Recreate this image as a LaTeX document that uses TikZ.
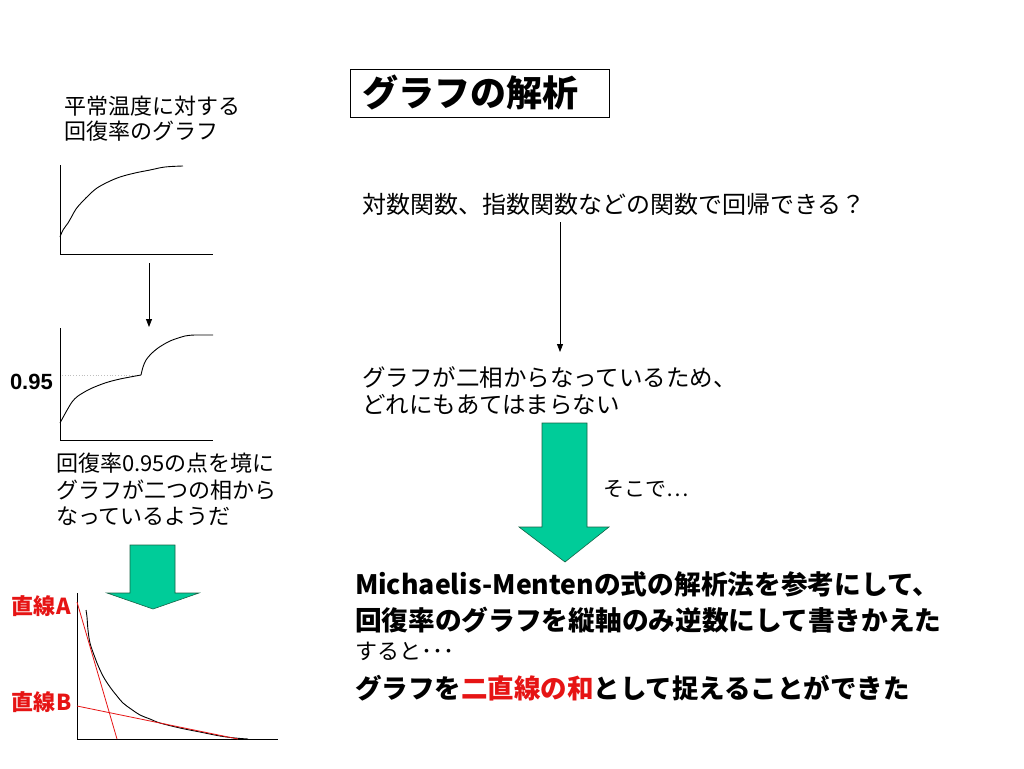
\documentclass[tikz,border=0pt]{standalone}
\usepackage{fontspec}
\setmainfont{Noto Sans CJK JP}
\newfontfamily\arial{Liberation Sans}
\usetikzlibrary{arrows.meta}
\definecolor{arrowgreen}{RGB}{0,204,153}
\definecolor{arrowedge}{RGB}{20,100,70}
\definecolor{txtred}{RGB}{230,20,20}
\tikzset{
  txt/.style={anchor=base west, inner sep=0pt, outer sep=0pt},
  axis/.style={line width=0.8pt, black},
  curve/.style={line width=0.9pt, black},
  redline/.style={line width=0.8pt, txtred},
  thinarrow/.style={line width=0.8pt, -{Triangle[length=8pt,width=6pt]}},
  bigarrow/.style={fill=arrowgreen, draw=arrowedge, line width=0.6pt, line join=miter}
}
\begin{document}
\begin{tikzpicture}[x=1pt,y=-1pt]
\useasboundingbox (0,0) rectangle (1024,768);
\fill[white] (0,0) rectangle (1024,768);

% ---------- title ----------
\draw[line width=0.8pt] (350,69) rectangle (609,117);
\node[txt, font=\fontsize{36}{40}\selectfont\bfseries] (title) at (362,106) {グラフの解析};

% ---------- left column ----------
\node[txt, font=\fontsize{22}{26}\selectfont] (l1) at (64,114) {平常温度に対する};
\node[txt, font=\fontsize{22}{26}\selectfont] (l2) at (64,139) {回復率のグラフ};

% graph 1
\draw[axis] (60,165) -- (60,254) -- (213,254);
\draw[curve] plot[smooth, tension=0.6] coordinates {(60,237) (63,230) (68,223) (72,216) (76,209) (82,202) (90,194) (97,188) (108,182) (120,177) (135,173) (150,170) (165,167) (183,166)};

\coordinate (a1s) at (149,263);
\coordinate (a1e) at (149,327);
\draw[thinarrow] (a1s) -- (a1e);

% graph 2
\draw[gray!50, dotted, line width=0.8pt] (62,375) -- (140,375);
\draw[axis] (60,328) -- (60,440) -- (213,440);
\draw[curve] plot[smooth, tension=0.5] coordinates {(60,423) (66,412) (72,402) (78,396) (90,389) (105,383) (120,379) (141,375)};
\draw[curve] plot[smooth, tension=0.5] coordinates {(141,375) (143,367) (146,360) (151,354) (158,348) (170,341) (185,336) (195,335)} -- (213,335);
\node[txt, font=\arial\fontsize{22}{25}\selectfont\bfseries] (v095) at (10,389) {0.95};

\node[txt, font=\fontsize{22}{26}\selectfont] (c1) at (56,471) {回復率0.95の点を境に};
\node[txt, font=\fontsize{22}{26}\selectfont] (c2) at (56,498) {グラフが二つの相から};
\node[txt, font=\fontsize{22}{26}\selectfont] (c3) at (56,524) {なっているようだ};

% green arrow left
\draw[bigarrow] (130,545) -- (175,545) -- (175,593) -- (199,593) -- (153,609) -- (107,593) -- (130,593) -- cycle;

% graph 3
\draw[axis] (77,593) -- (77,739) -- (278,739);
\draw[curve] plot[smooth, tension=0.6] coordinates {(86,610) (87,617) (88,630) (90,643) (94,655) (97,663) (103,676) (110,687) (117,696) (123,703) (131,709) (140,715) (150,719) (160,723) (180,728) (200,732) (220,736) (235,738) (248,739)};
\draw[redline] (77,602) -- (117,739);
\draw[redline] (77,706) -- (238,739);
\node[txt, text=txtred, font=\fontsize{22}{25}\selectfont\bfseries] (lA) at (12,614) {直線A};
\node[txt, text=txtred, font=\fontsize{22}{25}\selectfont\bfseries] (lB) at (12,710) {直線B};

% ---------- right column ----------
\node[txt, font=\fontsize{24}{27}\selectfont] (q) at (362,213) {対数関数、指数関数などの関数で回帰できる？};
\coordinate (a2s) at (560,222);
\coordinate (a2e) at (560,352);
\draw[thinarrow] (a2s) -- (a2e);
\node[txt, font=\fontsize{23.5}{27}\selectfont] (r1) at (362,386) {グラフが二相からなっているため、};
\node[txt, font=\fontsize{23.5}{27}\selectfont] (r2) at (362,413) {どれにもあてはまらない};

\draw[bigarrow] (542,423) -- (587,423) -- (587,527) -- (609,527) -- (565,562) -- (519,527) -- (542,527) -- cycle;
\node[txt, font=\fontsize{21}{24}\selectfont] (soko) at (603,496) {そこで…};

\node[txt, font=\fontsize{26.7}{32}\selectfont\bfseries] (b1) at (355,594) {Michaelis-Mentenの式の解析法を参考にして、};
\node[txt, font=\fontsize{26.7}{32}\selectfont\bfseries] (b2) at (355,630) {回復率のグラフを縦軸のみ逆数にして書きかえた};
\node[txt, font=\fontsize{22}{25}\selectfont] (b3) at (355,659) {すると･･･};
\node[txt, font=\fontsize{26.5}{32}\selectfont\bfseries] (b4) at (355,698) {グラフを\textcolor{txtred}{二直線の和}として捉えることができた};
\end{tikzpicture}
\end{document}
